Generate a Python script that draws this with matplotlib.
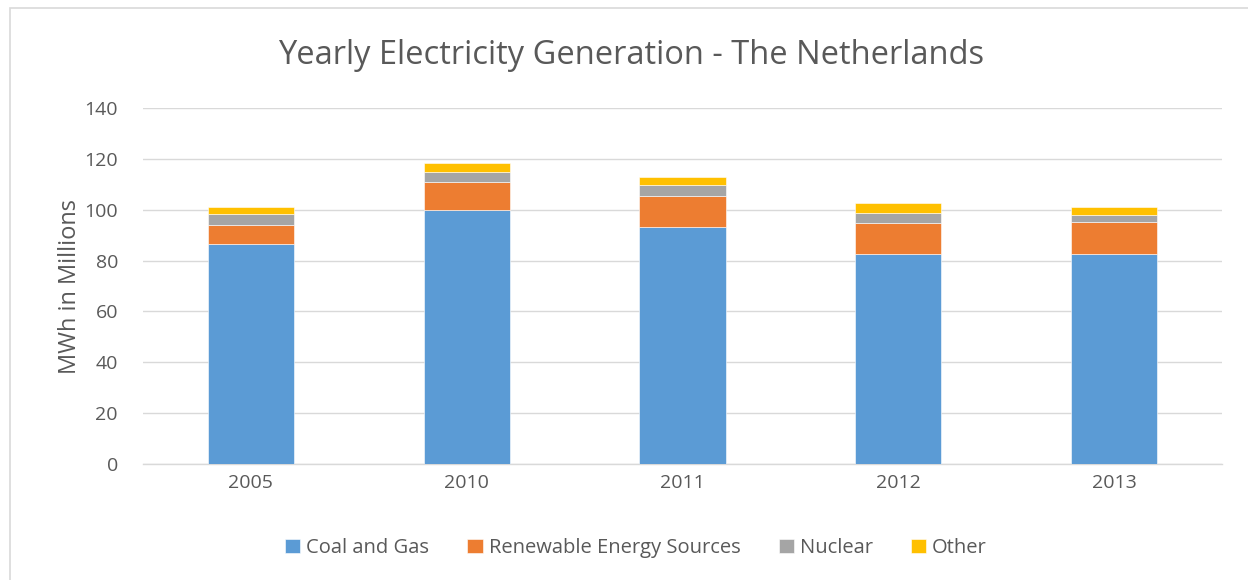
import matplotlib
matplotlib.use("Agg")
import matplotlib.pyplot as plt
import numpy as np
from matplotlib.patches import Rectangle

years = ["2005", "2010", "2011", "2012", "2013"]
coal_gas = [86.5, 99.9, 93.1, 82.5, 82.7]
renewable = [7.3, 11.1, 12.4, 12.4, 12.3]
nuclear = [4.4, 4.0, 4.1, 3.9, 2.8]
other = [2.8, 3.2, 3.4, 3.8, 3.1]

series = [("Coal and Gas", coal_gas, "#5B9BD5"),
          ("Renewable Energy Sources", renewable, "#ED7D31"),
          ("Nuclear", nuclear, "#A5A5A5"),
          ("Other", other, "#FFC000")]

plt.rcParams['font.family'] = ['Open Sans', 'DejaVu Sans']
W, H = 1248, 580
fig = plt.figure(figsize=(W/100, H/100), dpi=100)
fig.patch.set_facecolor("white")

# chart border
fig.patches.append(Rectangle((10/W, -0.1), 1.2, (580-8)/H + 0.1, transform=fig.transFigure,
                             fill=False, edgecolor="#D9D9D9", linewidth=1.2))

ax = fig.add_axes([143/W, 1-464/H, (1222-143)/W, (464-108)/H])
x = np.arange(len(years))
bottom = np.zeros(len(years))
for name, vals, col in series:
    ax.bar(x, vals, 0.4, bottom=bottom, color=col, label=name, zorder=3,
           edgecolor="white", linewidth=0.4)
    bottom += np.array(vals)

ax.set_xlim(-0.5, len(years) - 0.5)
ax.set_ylim(0, 140)
ax.set_yticks(np.arange(0, 141, 20))
ax.set_xticks(x)
ax.set_xticklabels(years)
ax.yaxis.grid(True, color="#D9D9D9", linewidth=1, zorder=0)
for s in ["top", "right", "left"]:
    ax.spines[s].set_visible(False)
ax.spines["bottom"].set_color("#D9D9D9")
ax.spines["bottom"].set_linewidth(1)
ax.tick_params(axis="both", length=0, labelsize=14, colors="#595959", pad=7)
ax.tick_params(axis="y", pad=18)
ax.set_ylabel("MWh in Millions", fontsize=17, color="#595959", labelpad=2)

fig.text(631/W, 1-55/H, "Yearly Electricity Generation - The Netherlands",
         ha="center", va="center", fontsize=23.5, color="#595959")

leg = fig.legend(loc="center", bbox_to_anchor=(636/W, 1-548/H), ncol=4, frameon=False,
                 fontsize=14.5, handlelength=0.75, handleheight=0.75, columnspacing=1.9,
                 handletextpad=0.3)
for t in leg.get_texts():
    t.set_color("#595959")

fig.savefig("out.png", dpi=100, facecolor="white")
